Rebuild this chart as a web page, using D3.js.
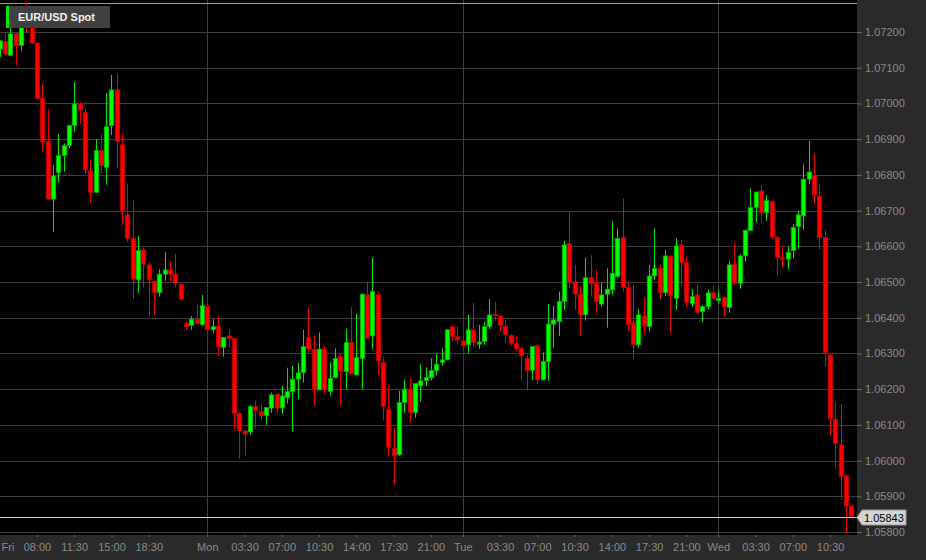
<!DOCTYPE html>
<html>
<head>
<meta charset="utf-8">
<script src="https://cdnjs.cloudflare.com/ajax/libs/d3/7.8.5/d3.min.js"></script>
<style>
body { margin: 0; background: #2a2a2a; }
text { font-family: "Liberation Sans", Arial, sans-serif; }
</style>
</head>
<body>
<div id="chart"></div>
<script>
// EUR/USD spot, 30 minute candles (weekend removed)
var openP = [1.07152,1.07173,1.07134,1.07195,1.07162,1.07239,1.07212,1.07169,1.07014,1.06893,
  1.06732,1.06807,1.06854,1.06882,1.06938,1.06999,1.06975,1.06811,1.06751,1.06868,
  1.06821,1.06938,1.07038,1.06884,1.06688,1.06622,1.06506,1.06590,1.06548,1.06503,
  1.06470,1.06522,1.06534,1.06522,1.06494,1.06384,1.06378,1.06396,1.06380,1.06433,
  1.06366,1.06377,1.06317,1.06349,1.06342,1.06132,1.06083,1.06080,1.06151,1.06138,
  1.06126,1.06147,1.06186,1.06147,1.06176,1.06193,1.06228,1.06246,1.06345,1.06312,
  1.06198,1.06312,1.06193,1.06232,1.06291,1.06249,1.06331,1.06240,1.06286,1.06464,
  1.06349,1.06464,1.06275,1.06144,1.06034,1.06016,1.06163,1.06200,1.06134,1.06209,
  1.06224,1.06232,1.06252,1.06275,1.06282,1.06375,1.06347,1.06335,1.06324,1.06366,
  1.06326,1.06333,1.06375,1.06410,1.06405,1.06375,1.06350,1.06328,1.06314,1.06286,
  1.06252,1.06322,1.06226,1.06277,1.06382,1.06389,1.06445,1.06608,1.06501,1.06466,
  1.06408,1.06512,1.06496,1.06438,1.06466,1.06478,1.06515,1.06624,1.06485,1.06387,
  1.06324,1.06405,1.06375,1.06517,1.06538,1.06470,1.06573,1.06454,1.06604,1.06554,
  1.06440,1.06464,1.06417,1.06431,1.06470,1.06448,1.06457,1.06428,1.06550,1.06496,
  1.06573,1.06644,1.06709,1.06755,1.06694,1.06725,1.06625,1.06568,1.06564,1.06588,
  1.06655,1.06685,1.06788,1.06797,1.06741,1.06625,1.06296,1.06116,1.06044,1.05958,
  1.05873];
var highP = [1.07178,1.07197,1.07211,1.07197,1.07256,1.07285,1.07212,1.07170,1.07054,1.06984,
  1.06828,1.06914,1.06888,1.06940,1.07060,1.07004,1.06988,1.06844,1.06900,1.06914,
  1.07029,1.07080,1.07082,1.06914,1.06776,1.06730,1.06629,1.06597,1.06554,1.06503,
  1.06536,1.06584,1.06556,1.06578,1.06494,1.06389,1.06405,1.06436,1.06464,1.06440,
  1.06396,1.06405,1.06345,1.06368,1.06343,1.06137,1.06085,1.06156,1.06167,1.06156,
  1.06149,1.06190,1.06187,1.06209,1.06260,1.06265,1.06274,1.06366,1.06426,1.06350,
  1.06359,1.06321,1.06275,1.06314,1.06300,1.06370,1.06429,1.06412,1.06468,1.06499,
  1.06569,1.06473,1.06289,1.06209,1.06092,1.06195,1.06226,1.06232,1.06216,1.06270,
  1.06261,1.06286,1.06300,1.06314,1.06368,1.06376,1.06376,1.06352,1.06408,1.06442,
  1.06380,1.06389,1.06452,1.06445,1.06406,1.06394,1.06354,1.06349,1.06319,1.06296,
  1.06320,1.06328,1.06303,1.06438,1.06433,1.06473,1.06616,1.06699,1.06548,1.06489,
  1.06569,1.06575,1.06534,1.06499,1.06538,1.06671,1.06650,1.06734,1.06498,1.06492,
  1.06424,1.06457,1.06548,1.06650,1.06548,1.06590,1.06574,1.06622,1.06618,1.06571,
  1.06480,1.06496,1.06436,1.06478,1.06489,1.06478,1.06459,1.06559,1.06610,1.06578,
  1.06646,1.06762,1.06753,1.06772,1.06744,1.06726,1.06629,1.06599,1.06599,1.06662,
  1.06699,1.06830,1.06895,1.06860,1.06774,1.06646,1.06297,1.06165,1.06158,1.05960,
  1.05874];
var lowP = [1.07130,1.07137,1.07133,1.07106,1.07147,1.07200,1.07167,1.07012,1.06865,1.06730,
  1.06640,1.06778,1.06809,1.06875,1.06921,1.06942,1.06804,1.06722,1.06749,1.06804,
  1.06772,1.06912,1.06818,1.06660,1.06613,1.06453,1.06470,1.06484,1.06405,1.06408,
  1.06459,1.06503,1.06503,1.06484,1.06448,1.06366,1.06366,1.06383,1.06379,1.06361,
  1.06356,1.06293,1.06291,1.06317,1.06088,1.06005,1.06011,1.06072,1.06089,1.06112,
  1.06100,1.06134,1.06132,1.06130,1.06160,1.06081,1.06172,1.06218,1.06302,1.06154,
  1.06197,1.06186,1.06182,1.06231,1.06154,1.06200,1.06242,1.06239,1.06200,1.06342,
  1.06312,1.06240,1.06112,1.06011,1.05932,1.06013,1.06134,1.06106,1.06120,1.06165,
  1.06209,1.06224,1.06238,1.06266,1.06281,1.06333,1.06328,1.06315,1.06300,1.06321,
  1.06312,1.06324,1.06368,1.06392,1.06361,1.06330,1.06322,1.06307,1.06223,1.06198,
  1.06226,1.06214,1.06225,1.06223,1.06316,1.06349,1.06422,1.06484,1.06422,1.06350,
  1.06392,1.06459,1.06414,1.06431,1.06372,1.06463,1.06512,1.06473,1.06361,1.06284,
  1.06316,1.06354,1.06361,1.06506,1.06452,1.06461,1.06358,1.06422,1.06489,1.06431,
  1.06431,1.06410,1.06389,1.06424,1.06450,1.06440,1.06403,1.06414,1.06492,1.06481,
  1.06557,1.06643,1.06666,1.06666,1.06672,1.06620,1.06515,1.06541,1.06536,1.06566,
  1.06594,1.06646,1.06774,1.06720,1.06592,1.06263,1.06072,1.05976,1.05890,1.05796,
  1.05838];
var closeP = [1.07175,1.07138,1.07195,1.07162,1.07239,1.07214,1.07169,1.07014,1.06893,1.06732,
  1.06797,1.06854,1.06882,1.06938,1.06999,1.06982,1.06814,1.06751,1.06868,1.06826,
  1.06935,1.07038,1.06893,1.06700,1.06622,1.06508,1.06588,1.06550,1.06506,1.06471,
  1.06522,1.06534,1.06522,1.06496,1.06452,1.06375,1.06396,1.06384,1.06434,1.06366,
  1.06375,1.06319,1.06345,1.06342,1.06132,1.06083,1.06074,1.06151,1.06140,1.06126,
  1.06149,1.06184,1.06147,1.06181,1.06193,1.06228,1.06246,1.06319,1.06312,1.06198,
  1.06312,1.06198,1.06230,1.06286,1.06249,1.06331,1.06243,1.06289,1.06466,1.06343,
  1.06473,1.06280,1.06151,1.06036,1.06013,1.06163,1.06200,1.06134,1.06216,1.06223,
  1.06233,1.06252,1.06270,1.06282,1.06366,1.06347,1.06338,1.06322,1.06366,1.06330,
  1.06332,1.06375,1.06408,1.06405,1.06378,1.06352,1.06328,1.06314,1.06293,1.06252,
  1.06319,1.06226,1.06277,1.06382,1.06394,1.06445,1.06604,1.06499,1.06466,1.06408,
  1.06512,1.06496,1.06445,1.06464,1.06480,1.06524,1.06622,1.06485,1.06380,1.06324,
  1.06408,1.06377,1.06517,1.06538,1.06470,1.06573,1.06461,1.06601,1.06554,1.06443,
  1.06459,1.06414,1.06431,1.06470,1.06454,1.06454,1.06431,1.06548,1.06496,1.06573,
  1.06645,1.06709,1.06752,1.06694,1.06728,1.06625,1.06568,1.06564,1.06583,1.06653,
  1.06688,1.06788,1.06808,1.06744,1.06625,1.06302,1.06118,1.06048,1.05955,1.05873,
  1.05843];

// time axis: candle index of each label
var tickIdx = [0, 7, 14, 21, 28, 39, 46, 53, 60, 67, 74, 81, 87, 94, 101, 108, 115, 122, 129, 135, 142, 149, 156];
var tickLabels = ['Fri','08:00','11:30','15:00','18:30','Mon','03:30','07:00','10:30','14:00','17:30','21:00',
  'Tue','03:30','07:00','10:30','14:00','17:30','21:00','Wed','03:30','07:00','10:30'];
var dayIdx = [39, 87, 135];
var priceTicks = [1.058, 1.059, 1.060, 1.061, 1.062, 1.063, 1.064, 1.065, 1.066, 1.067, 1.068, 1.069, 1.070, 1.071, 1.072];
var lastPrice = 1.05843;
var seriesName = 'EUR/USD Spot';

var width = 926,
	height = 560,
	plotW = 857,
	plotH = 535;

var svg = d3.select('#chart').append('svg')
	.attr('width', width)
	.attr('height', height);

svg.append('rect').attr('width', width).attr('height', height).attr('fill', '#2a2a2a');
svg.append('rect').attr('width', plotW).attr('height', plotH).attr('fill', '#000');

var x = d3.scaleLinear().domain([0, 160]).range([-0.3, 851.4]);
var y = d3.scaleLinear().domain([1.058, 1.072]).range([532, 32]);

svg.append('defs').append('clipPath').attr('id', 'plot')
	.append('rect').attr('width', plotW).attr('height', plotH);

// grid
var grid = svg.append('g');
grid.selectAll('line.h')
	.data(priceTicks)
	.enter().append('line')
		.attr('x1', 0).attr('x2', plotW)
		.attr('y1', function(d) { return Math.round(y(d)) + 0.5; })
		.attr('y2', function(d) { return Math.round(y(d)) + 0.5; })
		.attr('stroke', '#3c3c3c');
grid.selectAll('line.v')
	.data(dayIdx)
	.enter().append('line')
		.attr('x1', function(d) { return Math.round(x(d)) + 0.5; })
		.attr('x2', function(d) { return Math.round(x(d)) + 0.5; })
		.attr('y1', 0).attr('y2', plotH)
		.attr('stroke', '#3c3c3c');

// top border
svg.append('line')
	.attr('x1', 0).attr('x2', plotW).attr('y1', 3.5).attr('y2', 3.5)
	.attr('stroke', '#a0a0a0');

// candles
var candles = svg.append('g').attr('clip-path', 'url(#plot)');
var idx = d3.range(openP.length);
var up = function(i) { return closeP[i] >= openP[i]; };

candles.selectAll('line')
	.data(idx)
	.enter().append('line')
		.attr('x1', function(i) { return Math.round(x(i)) + 0.5; })
		.attr('x2', function(i) { return Math.round(x(i)) + 0.5; })
		.attr('y1', function(i) { return y(highP[i]); })
		.attr('y2', function(i) { return y(lowP[i]); })
		.attr('stroke', function(i) { return up(i) ? '#00e600' : '#ee0000'; });

candles.selectAll('rect')
	.data(idx)
	.enter().append('rect')
		.attr('x', function(i) { return Math.round(x(i)) - 1.8; })
		.attr('width', 4.6)
		.attr('y', function(i) { return y(Math.max(openP[i], closeP[i])); })
		.attr('height', function(i) { return Math.max(1, Math.abs(y(openP[i]) - y(closeP[i]))); })
		.attr('fill', function(i) { return up(i) ? '#00ff00' : '#ff0000'; })
		.attr('stroke', function(i) { return up(i) ? '#00a000' : '#b00000'; })
		.attr('stroke-width', 0.7);

// last price line
svg.append('line')
	.attr('x1', 0).attr('x2', plotW)
	.attr('y1', Math.round(y(lastPrice)) + 0.5).attr('y2', Math.round(y(lastPrice)) + 0.5)
	.attr('stroke', '#cfcfcf');

// price axis
var yAxis = svg.append('g')
	.attr('transform', 'translate(' + plotW + ',0)')
	.call(d3.axisRight(y).tickValues(priceTicks).tickFormat(d3.format('.5f')).tickSize(5).tickPadding(3));
yAxis.select('.domain').remove();
yAxis.selectAll('line').attr('stroke', '#6a6a6a');
yAxis.selectAll('text').attr('fill', '#8a8a8a').style('font-size', '11px');

// last price tag
var tag = svg.append('g').attr('transform', 'translate(0,' + (Math.round(y(lastPrice)) + 0.5) + ')');
tag.append('path')
	.attr('d', 'M857,0 L862,-7.5 L906,-7.5 L906,7.5 L862,7.5 Z')
	.attr('fill', '#d4d4d4')
	.attr('stroke', '#9a9a9a');
tag.append('text')
	.attr('x', 864).attr('y', 4)
	.attr('fill', '#000')
	.style('font-size', '11px')
	.text(d3.format('.5f')(lastPrice));

// time axis
var xAxis = svg.append('g')
	.attr('transform', 'translate(0,' + plotH + ')')
	.call(d3.axisBottom(x).tickValues(tickIdx)
		.tickFormat(function(d, i) { return tickLabels[i]; })
		.tickSize(2).tickPadding(6));
xAxis.select('.domain').remove();
xAxis.selectAll('line').attr('stroke', '#6a6a6a');
xAxis.selectAll('text').attr('fill', '#8a8a8a').style('font-size', '11px');
xAxis.selectAll('.tick').filter(function(d) { return d === 0; })
	.each(function() {
		d3.select(this).select('line').remove();
		d3.select(this).select('text').attr('text-anchor', 'start').attr('x', 1.3);
	});

// legend
svg.append('rect').attr('x', 6).attr('y', 6).attr('width', 3).attr('height', 22).attr('fill', '#00e600');
svg.append('rect').attr('x', 9).attr('y', 6).attr('width', 101).attr('height', 22).attr('fill', '#404040');
svg.append('text')
	.attr('x', 18).attr('y', 21)
	.attr('fill', '#f2f2f2')
	.style('font-size', '11px')
	.style('font-weight', 'bold')
	.text(seriesName);
</script>
</body>
</html>
